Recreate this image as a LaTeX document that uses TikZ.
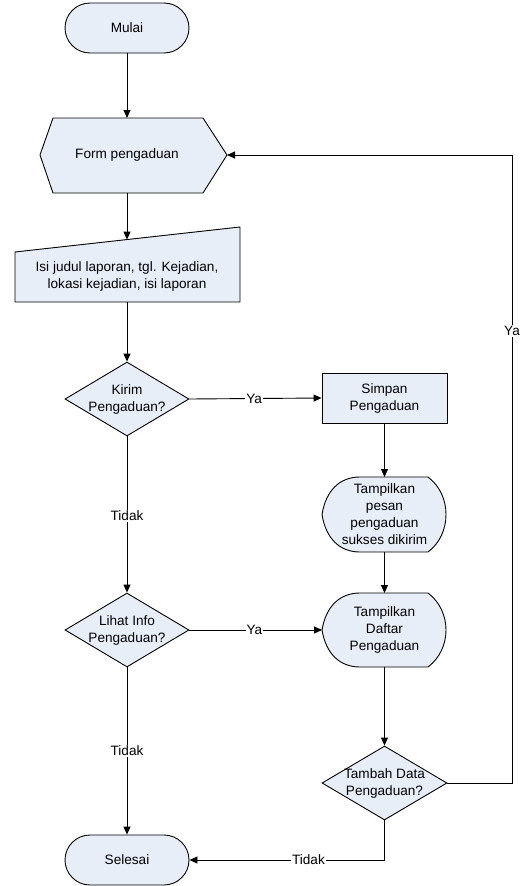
\documentclass[tikz,border=0pt]{standalone}
\usepackage{fontspec}
\setmainfont{Liberation Sans}
\usetikzlibrary{shapes.misc,shapes.geometric,arrows.meta}
\definecolor{shapefill}{HTML}{E8EEF8}
\tikzset{
  every node/.style={font=\fontsize{13.6}{17}\selectfont, align=center},
  term/.style={rounded rectangle, draw=black, fill=shapefill, minimum width=124pt, minimum height=50pt, inner sep=0pt, line width=0.9pt},
  decide/.style={diamond, draw=black, fill=shapefill, minimum width=124pt, minimum height=74pt, inner sep=0pt, line width=0.9pt},
  procbox/.style={rectangle, draw=black, fill=shapefill, minimum width=125pt, minimum height=50pt, inner sep=0pt, line width=0.9pt},
  shapeline/.style={draw=black, fill=shapefill, line width=0.9pt},
  conn/.style={draw=black, line width=0.9pt, -{Triangle[length=8pt,width=7pt]}},
  lbl/.style={fill=white, inner sep=1pt}
}
\begin{document}
\begin{tikzpicture}[x=1pt,y=-1pt]
\useasboundingbox (0,0) rectangle (524,886);

% Mulai
\node[term] (mulai) at (127,28) {Mulai};

% Form pengaduan (display-like hexagon)
\path[shapeline] (40,155) -- (53,118) -- (203,118) -- (227,155) -- (203,193) -- (53,193) -- cycle;
\node (form) at (127,155) {Form pengaduan};
\coordinate (formTop) at (127,118);
\coordinate (formBot) at (127,193);
\coordinate (formRight) at (227,155);

% Manual input
\path[shapeline] (15,252) -- (240,227) -- (240,302) -- (15,302) -- cycle;
\node (isi) at (127,276) {Isi judul laporan, tgl. Kejadian,\\lokasi kejadian, isi laporan};
\coordinate (isiTop) at (127,239.6);
\coordinate (isiBot) at (127,302);

% Kirim decision
\node[decide] (kirim) at (127,399) {};
\node at (127,399) {Kirim\\Pengaduan?};

% Simpan
\node[procbox] (simpan) at (384.5,398) {Simpan\\Pengaduan};

% Tampilkan pesan (display shape)
\path[shapeline] (322,514.5) .. controls (326,490) and (340,477) .. (360,477) -- (428,477)
  .. controls (440,486) and (446,500) .. (446,514.5)
  .. controls (446,529) and (440,543) .. (428,552) -- (360,552)
  .. controls (340,552) and (326,539) .. cycle;
\node (pesan) at (384.5,514.5) {Tampilkan\\pesan\\pengaduan\\sukses dikirim};
\coordinate (pesanTop) at (384.5,477);
\coordinate (pesanBot) at (384.5,552);

% Lihat decision
\node[decide] (lihat) at (127,630) {};
\node at (127,630) {Lihat Info\\Pengaduan?};

% Tampilkan Daftar (display shape)
\path[shapeline] (322,630) .. controls (326,606) and (340,593) .. (360,593) -- (428,593)
  .. controls (440,602) and (446,616) .. (446,630)
  .. controls (446,644) and (440,658) .. (428,667) -- (360,667)
  .. controls (340,667) and (326,654) .. cycle;
\node (daftar) at (384.5,630) {Tampilkan\\Daftar\\Pengaduan};
\coordinate (daftarTop) at (384.5,593);
\coordinate (daftarBot) at (384.5,667);
\coordinate (daftarLeft) at (322,630);

% Tambah decision
\node[decide, minimum width=125pt] (tambah) at (384.5,783) {};
\node at (384.5,783) {Tambah Data\\Pengaduan?};

% Selesai
\node[term] (selesai) at (127,860) {Selesai};

% loop corners
\coordinate (loopA) at (512,783);
\coordinate (loopB) at (512,155);
\coordinate (botCorner) at (384.5,860);

% Connectors
\draw[conn] (mulai.south) -- (formTop);
\draw[conn] (formBot) -- (isiTop);
\draw[conn] (isiBot) -- (kirim.north);
\draw[conn] (kirim.east) -- node[lbl, pos=0.49] {Ya} (simpan.west);
\draw[conn] (kirim.south) -- node[lbl, pos=0.51] {Tidak} (lihat.north);
\draw[conn] (simpan.south) -- (pesanTop);
\draw[conn] (pesanBot) -- (daftarTop);
\draw[conn] (lihat.east) -- node[lbl, pos=0.49] {Ya} (daftarLeft);
\draw[conn] (lihat.south) -- node[lbl, pos=0.50] {Tidak} (selesai.north);
\draw[conn] (daftarBot) -- (tambah.north);
\draw[conn] (tambah.east) -- (loopA) -- node[lbl, pos=0.72] {Ya} (loopB) -- (formRight);
\draw[conn] (tambah.south) -- (botCorner) -- node[lbl, pos=0.39] {Tidak} (selesai.east);
\end{tikzpicture}
\end{document}
